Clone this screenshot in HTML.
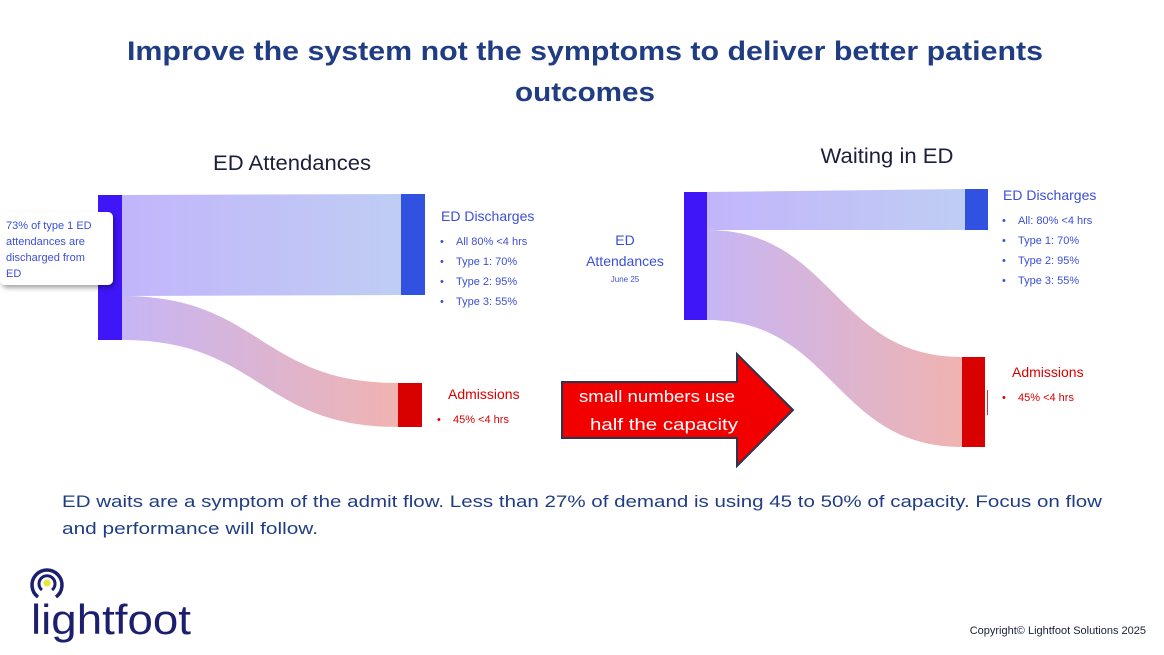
<!DOCTYPE html>
<html><head><meta charset="utf-8"><style>
html,body{margin:0;padding:0;background:#fff;}
svg{display:block;font-family:"Liberation Sans",sans-serif;}
</style></head><body>
<svg width="1164" height="655" viewBox="0 0 1164 655" xmlns="http://www.w3.org/2000/svg">
<defs>
<linearGradient id="gb" x1="0" x2="1" y1="0" y2="0"><stop offset="0" stop-color="#c2b5fb"/><stop offset="1" stop-color="#bfcdf3"/></linearGradient>
<linearGradient id="gr" x1="0" x2="1" y1="0" y2="0"><stop offset="0" stop-color="#c6b6f6"/><stop offset="1" stop-color="#f0b3b0"/></linearGradient>
<filter id="sh" x="-20%" y="-20%" width="140%" height="150%"><feDropShadow dx="2" dy="3" stdDeviation="2.5" flood-opacity="0.35"/></filter>
</defs>
<text x="585" y="60" text-anchor="middle" font-size="27" font-weight="bold" fill="#203d84" textLength="916" lengthAdjust="spacingAndGlyphs">Improve the system not the symptoms to deliver better patients</text>
<text x="585" y="101" text-anchor="middle" font-size="27" font-weight="bold" fill="#203d84" textLength="140" lengthAdjust="spacingAndGlyphs">outcomes</text>
<text x="292" y="170" text-anchor="middle" font-size="21" fill="#1a1f3c" textLength="158" lengthAdjust="spacingAndGlyphs">ED Attendances</text>
<text x="887" y="163" text-anchor="middle" font-size="21" fill="#1a1f3c" textLength="133" lengthAdjust="spacingAndGlyphs">Waiting in ED</text>

<!-- left sankey -->
<path d="M122,195 L401,194 L401,295 L122,296 Z" fill="url(#gb)"/>
<path d="M122,296 C260,296 260,383 398,383 L398,427 C260,427 260,340 122,340 Z" fill="url(#gr)"/>
<rect x="98" y="195" width="24" height="145" fill="#3e16f8"/>
<rect x="401" y="194" width="24" height="101" fill="#3152e0"/>
<rect x="398" y="383" width="24" height="44" fill="#d90000"/>
<rect x="0" y="212" width="113" height="73" rx="5" fill="#fff" filter="url(#sh)"/>
<g font-size="11" fill="#3c4fd6">
<text x="6" y="229">73% of type 1 ED</text>
<text x="6" y="245">attendances are</text>
<text x="6" y="261">discharged from</text>
<text x="6" y="277">ED</text>
</g>
<text x="441" y="221" font-size="14" fill="#3c4fd6">ED Discharges</text>
<g font-size="11" fill="#3c4fd6">
<text x="440" y="245">•</text><text x="456" y="245">All 80% &lt;4 hrs</text>
<text x="440" y="265">•</text><text x="456" y="265">Type 1: 70%</text>
<text x="440" y="285">•</text><text x="456" y="285">Type 2: 95%</text>
<text x="440" y="305">•</text><text x="456" y="305">Type 3: 55%</text>
</g>
<text x="448" y="399" font-size="14" fill="#d90000">Admissions</text>
<text x="437" y="423" font-size="11" fill="#d90000">•</text><text x="453" y="423" font-size="11" fill="#d90000">45% &lt;4 hrs</text>

<!-- right sankey -->
<path d="M707,192 L965,189 L965,230 L707,230 Z" fill="url(#gb)"/>
<path d="M707,230 C834,230 834,357 962,357 L962,447 C834,447 834,320 707,320 Z" fill="url(#gr)"/>
<rect x="684" y="192" width="23" height="128" fill="#3e16f8"/>
<rect x="965" y="189" width="23" height="41" fill="#3152e0"/>
<rect x="962" y="357" width="23" height="90" fill="#d90000"/>
<rect x="987" y="390" width="1" height="25" fill="#e03030"/>
<text x="625" y="245" text-anchor="middle" font-size="14" fill="#3c4fd6">ED</text>
<text x="625" y="266" text-anchor="middle" font-size="14" fill="#3c4fd6">Attendances</text>
<text x="625" y="282" text-anchor="middle" font-size="8" fill="#3c4fd6">June 25</text>
<text x="1003" y="200" font-size="14" fill="#3c4fd6">ED Discharges</text>
<g font-size="11" fill="#3c4fd6">
<text x="1002" y="224">•</text><text x="1018" y="224">All: 80% &lt;4 hrs</text>
<text x="1002" y="244">•</text><text x="1018" y="244">Type 1: 70%</text>
<text x="1002" y="264">•</text><text x="1018" y="264">Type 2: 95%</text>
<text x="1002" y="284">•</text><text x="1018" y="284">Type 3: 55%</text>
</g>
<text x="1012" y="377" font-size="14" fill="#d90000">Admissions</text>
<text x="1002" y="401" font-size="11" fill="#d90000">•</text><text x="1018" y="401" font-size="11" fill="#d90000">45% &lt;4 hrs</text>

<!-- arrow -->
<path d="M562,382 L737,382 L737,354 L793,410 L737,466 L737,438 L562,438 Z" fill="#f20000" stroke="#2a3550" stroke-width="2"/>
<text x="657" y="402" text-anchor="middle" font-size="17" fill="#fff" textLength="156" lengthAdjust="spacingAndGlyphs">small numbers use</text>
<text x="664" y="430" text-anchor="middle" font-size="17" fill="#fff" textLength="148" lengthAdjust="spacingAndGlyphs">half the capacity</text>

<text x="62" y="507" font-size="16.5" fill="#203d84" textLength="1040" lengthAdjust="spacingAndGlyphs">ED waits are a symptom of the admit flow.   Less than 27% of demand  is using 45 to 50% of capacity.  Focus on flow</text>
<text x="62" y="534" font-size="16.5" fill="#203d84" textLength="256" lengthAdjust="spacingAndGlyphs">and performance will follow.</text>

<!-- logo -->
<path d="M38,597 A15,15 0 1 1 56,597" fill="none" stroke="#1b1f6e" stroke-width="3.5"/>
<path d="M42,590 A8,8 0 1 1 52,590" fill="none" stroke="#1b1f6e" stroke-width="3"/>
<circle cx="47" cy="583" r="3.5" fill="#e6e838"/>
<text x="31" y="634" font-size="42" fill="#1b1f6e" textLength="160" lengthAdjust="spacingAndGlyphs">lightfoot</text>
<text x="1146" y="634" text-anchor="end" font-size="11" fill="#1a1f3c">Copyright© Lightfoot Solutions 2025</text>
</svg>
</body></html>
